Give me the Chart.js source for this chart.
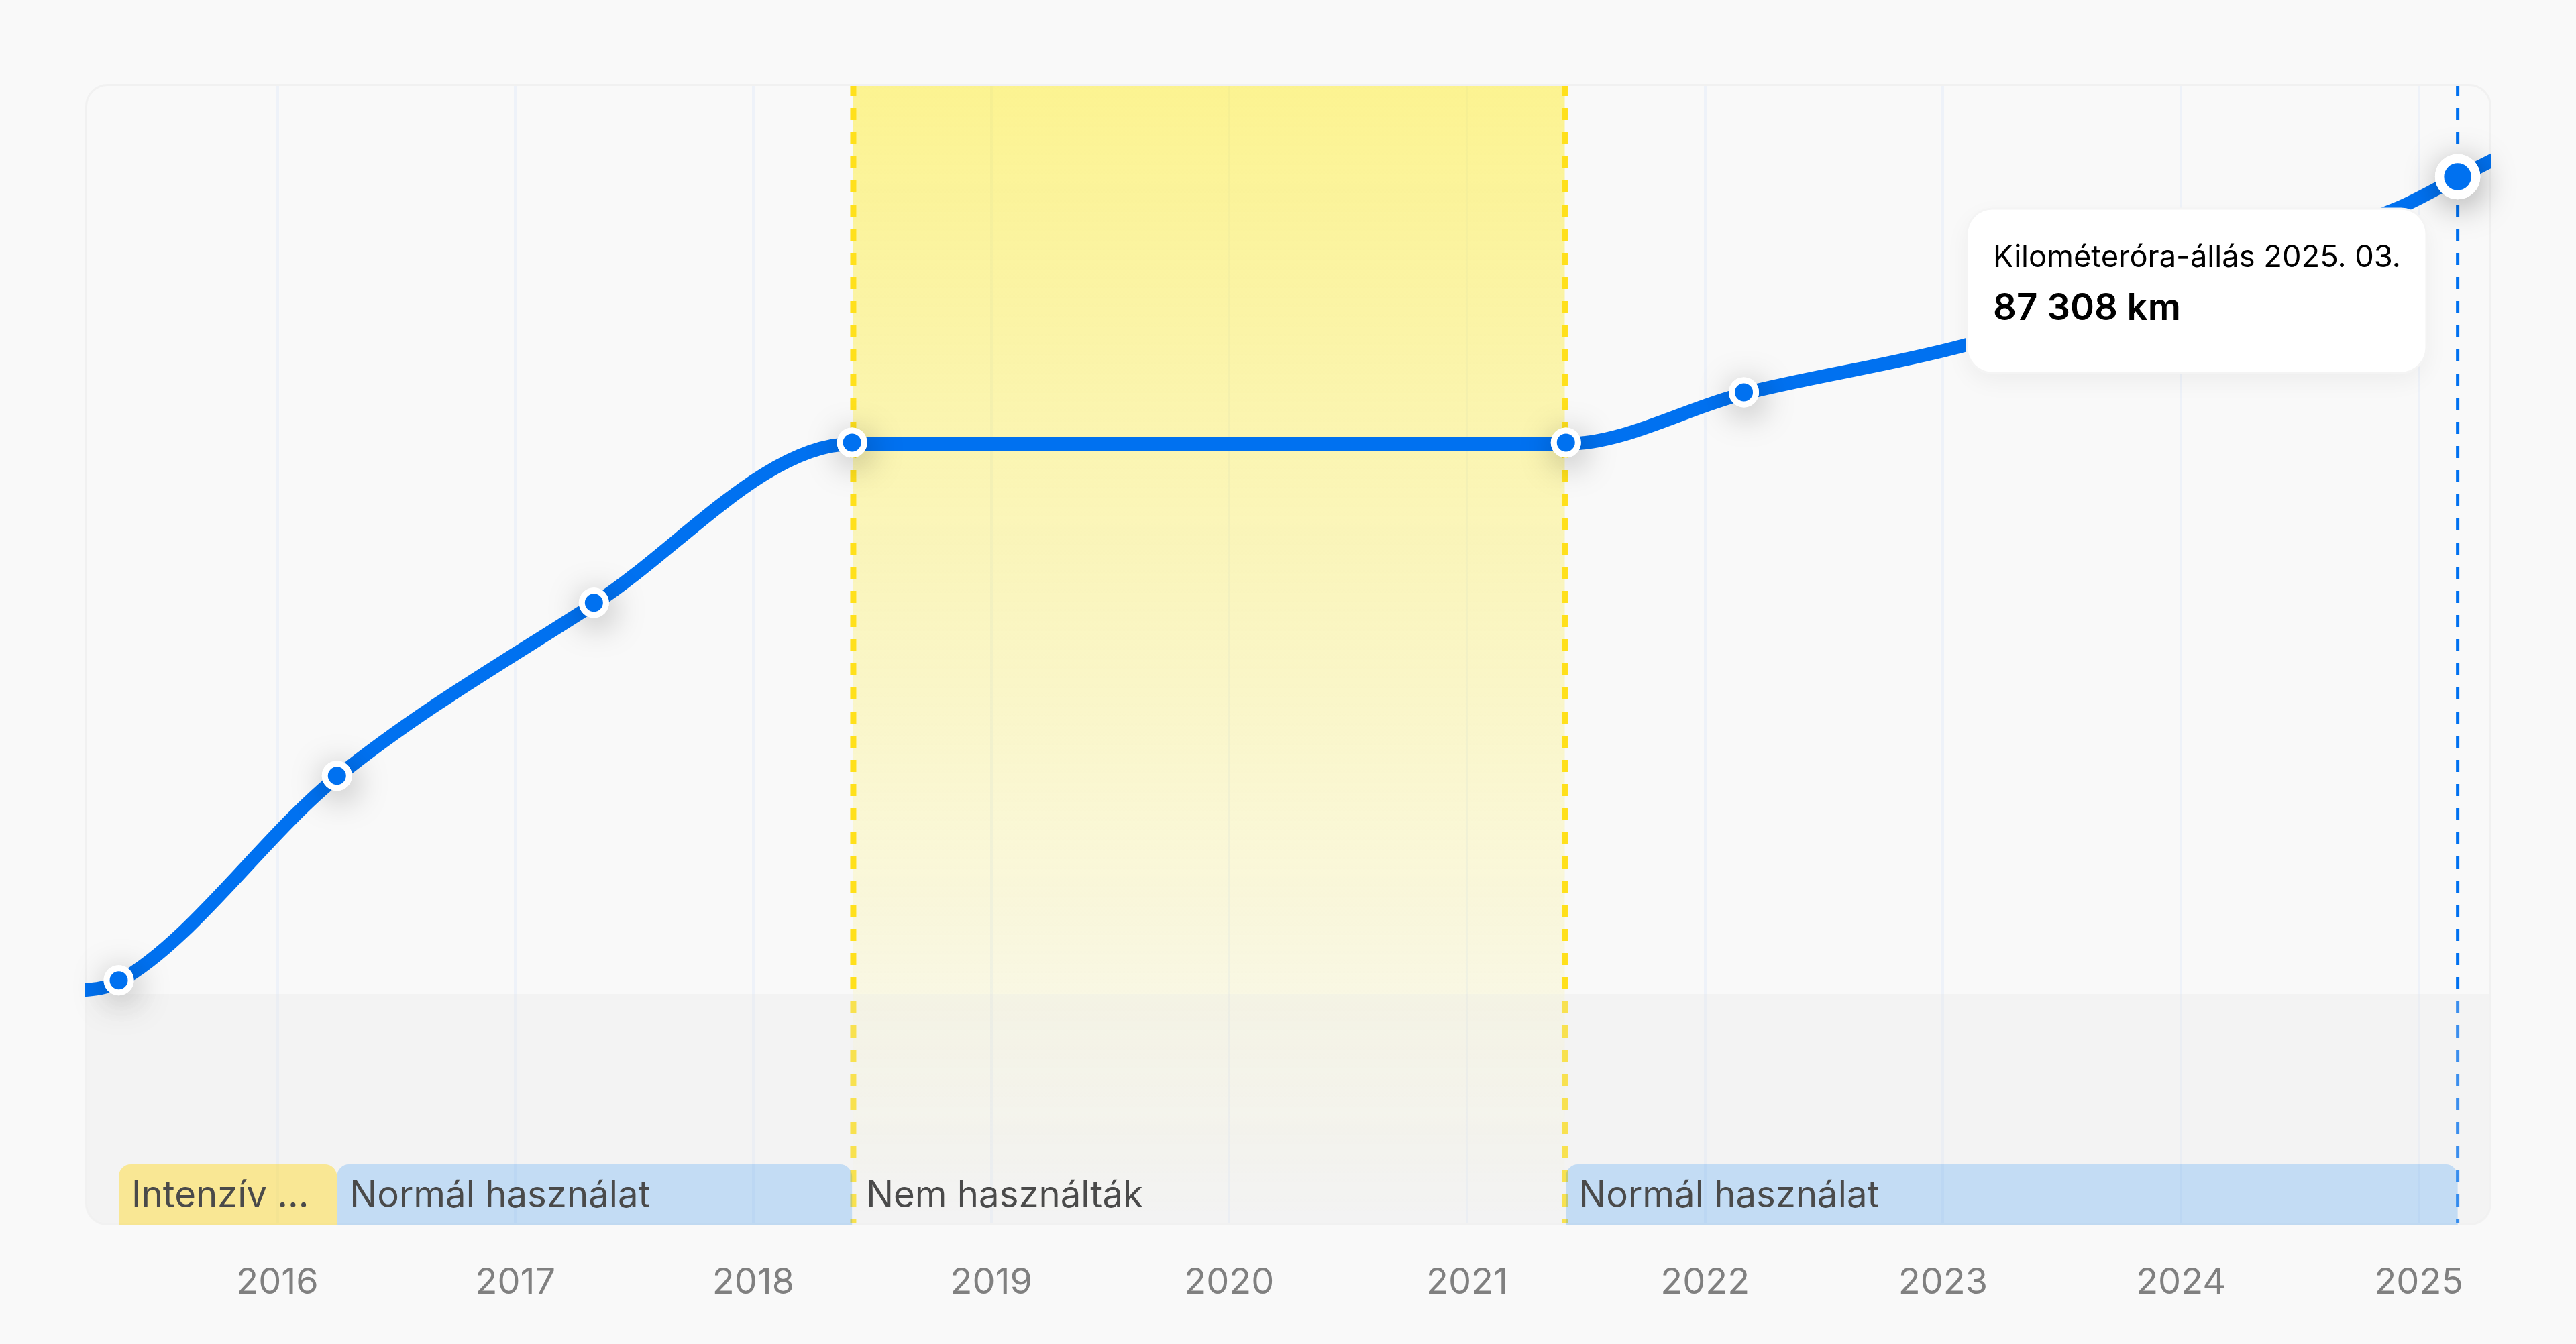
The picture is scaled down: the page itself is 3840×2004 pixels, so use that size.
<!DOCTYPE html>
<html><head><meta charset="utf-8">
<style>html,body{margin:0;padding:0;background:#f9f9f9}canvas{display:block}</style>
<script src="https://cdn.jsdelivr.net/npm/chart.js@4"></script>
</head><body><canvas id="c" width="3840" height="2004"></canvas>
<script>
const yearTicks=[2016,2017,2018,2019,2020,2021,2022,2023,2024,2025];
const xMin=2015.191,xMax=2025.304,yMin=0,yMax=95040;
const curveX=[2015.10,2015.333,2016.25,2017.33,2018.415,2021.415,2022.163,2023.083,2024.907,2025.163,2025.40];
const curveKm=[19400,20290,37320,51720,65060,65060,69250,73230,84650,87220,89600];
const markerX=[2015.333,2016.25,2017.33,2018.415,2021.415,2022.163,2025.163];
const markerKm=[20400,37430,51830,65170,65170,69360,87308];
const markerRadius=[18,18,18,18,18,18,27];
const markerBorder=[9,9,9,9,9,9,13.5];
const haloRadius=[22.5,22.5,22.5,22.5,22.5,22.5,33.75];
const periodStart=[2015.333,2016.25,2018.42,2021.415];
const periodEnd=[2016.25,2018.415,2021.41,2025.163];
const periodLabel=["Intenzív ...","Normál használat","Nem használták","Normál használat"];
const periodFill=["rgba(255,214,30,.45)","rgba(0,125,245,.2)",null,"rgba(0,125,245,.2)"];
const idleStart=2018.42,idleEnd=2021.41,currentX=2025.163;
const tipTitle="Kilométeróra-állás 2025. 03.",tipValue="87 308 km";
const FONT='Inter, "Noto Sans", sans-serif';
function rr(ctx,x,y,w,h,r){ctx.beginPath();ctx.roundRect(x,y,w,h,r);}
const decor={id:'decor',
 beforeDatasetsDraw(ch){
  const {ctx,chartArea:a,scales:{x}}=ch;
  ctx.save();
  rr(ctx,a.left,a.top,a.width,a.height,32);ctx.clip();
  const xa=x.getPixelForValue(idleStart),xb=x.getPixelForValue(idleEnd);
  const g=ctx.createLinearGradient(0,a.top,0,a.bottom);
  g.addColorStop(0,'rgba(255,236,27,.47)');g.addColorStop(1,'rgba(255,236,27,0)');
  ctx.fillStyle=g;ctx.fillRect(xa,a.top,xb-xa,a.height);
  ctx.setLineDash([18,18]);
  ctx.strokeStyle='#ffe01b';ctx.lineWidth=9;
  for(const v of [xa,xb]){ctx.beginPath();ctx.moveTo(v,a.top);ctx.lineTo(v,a.bottom);ctx.stroke();}
  ctx.strokeStyle='#0071f0';ctx.lineWidth=5;
  const c=x.getPixelForValue(currentX);
  ctx.beginPath();ctx.moveTo(c,a.top);ctx.lineTo(c,a.bottom);ctx.stroke();
  ctx.setLineDash([]);
  ctx.fillStyle='rgba(227,227,227,.26)';ctx.fillRect(a.left,1482,a.width,a.bottom-1482);
  ctx.restore();
  ctx.save();
  rr(ctx,a.left+1.5,a.top+1.5,a.width-3,a.height-3,32);ctx.strokeStyle='#f1f1f1';ctx.lineWidth=3;ctx.stroke();
  ctx.font='400 54.5px '+FONT;ctx.textBaseline='alphabetic';
  periodLabel.forEach((t,i)=>{
   const p=x.getPixelForValue(periodStart[i]),q=x.getPixelForValue(periodEnd[i]);
   if(periodFill[i]){ctx.fillStyle=periodFill[i];rr(ctx,p,1736,q-p,a.bottom-1736,[18,18,0,0]);ctx.fill();}
   ctx.fillStyle='#4a4a4a';ctx.fillText(t,p+19,1799.5);
  });
  ctx.restore();
 },
 beforeDatasetDraw(ch,args){
  if(args.index===1){const c=ch.ctx;c.save();c.shadowColor='rgba(0,0,0,.35)';c.shadowBlur=50;c.shadowOffsetX=4;c.shadowOffsetY=10;}
 },
 afterDatasetDraw(ch,args){if(args.index===1)ch.ctx.restore();},
 afterDatasetsDraw(ch){
  const c=ch.ctx,X=2932,Y=311,W=685,H=245;
  c.save();
  c.shadowColor='rgba(0,0,0,.05)';c.shadowBlur=36;c.shadowOffsetY=12;
  rr(c,X,Y,W,H,38);c.fillStyle='#fff';c.fill();
  c.shadowColor='transparent';c.strokeStyle='#f4f4f4';c.lineWidth=3;c.stroke();
  c.fillStyle='#000';c.textBaseline='alphabetic';
  c.font='400 45.3px '+FONT;c.fillText(tipTitle,X+39,397.5);
  c.font='600 54.6px '+FONT;c.fillText(tipValue,X+39,477);
  c.restore();
 }};
const markerPts=markerX.map((v,i)=>({x:v,y:markerKm[i]}));
new Chart(document.getElementById('c'),{
 type:'scatter',
 data:{datasets:[
  {data:curveX.map((v,i)=>({x:v,y:curveKm[i]})),showLine:true,borderColor:'#0071f0',borderWidth:20,pointRadius:0,cubicInterpolationMode:'monotone',clip:0,order:3},
  {data:markerPts,showLine:false,pointRadius:haloRadius,pointBorderWidth:0,pointBackgroundColor:'#fff',pointBorderColor:'#fff',clip:false,order:2},
  {data:markerPts,showLine:false,pointRadius:markerRadius,pointBorderWidth:markerBorder,pointBackgroundColor:'#0071f0',pointBorderColor:'#fff',clip:false,order:1}
 ]},
 options:{
  responsive:false,devicePixelRatio:1,animation:false,
  layout:{padding:{left:127,right:126,top:125,bottom:0}},
  plugins:{legend:{display:false},tooltip:{enabled:false}},
  events:[],
  scales:{
   x:{type:'linear',min:xMin+0.001,max:xMax+0.001,
    afterBuildTicks(s){s.ticks=yearTicks.map(value=>({value}));},
    afterFit(s){s.height=177;},
    grid:{color:'#eef2f9',lineWidth:4,drawTicks:false},border:{display:false},
    ticks:{autoSkip:false,maxRotation:0,padding:53,color:'#808080',font:{family:FONT,size:54,weight:'400'},callback:v=>String(v)}},
   y:{display:false,min:yMin,max:yMax}
  }
 },
 plugins:[decor]
});
</script></body></html>
